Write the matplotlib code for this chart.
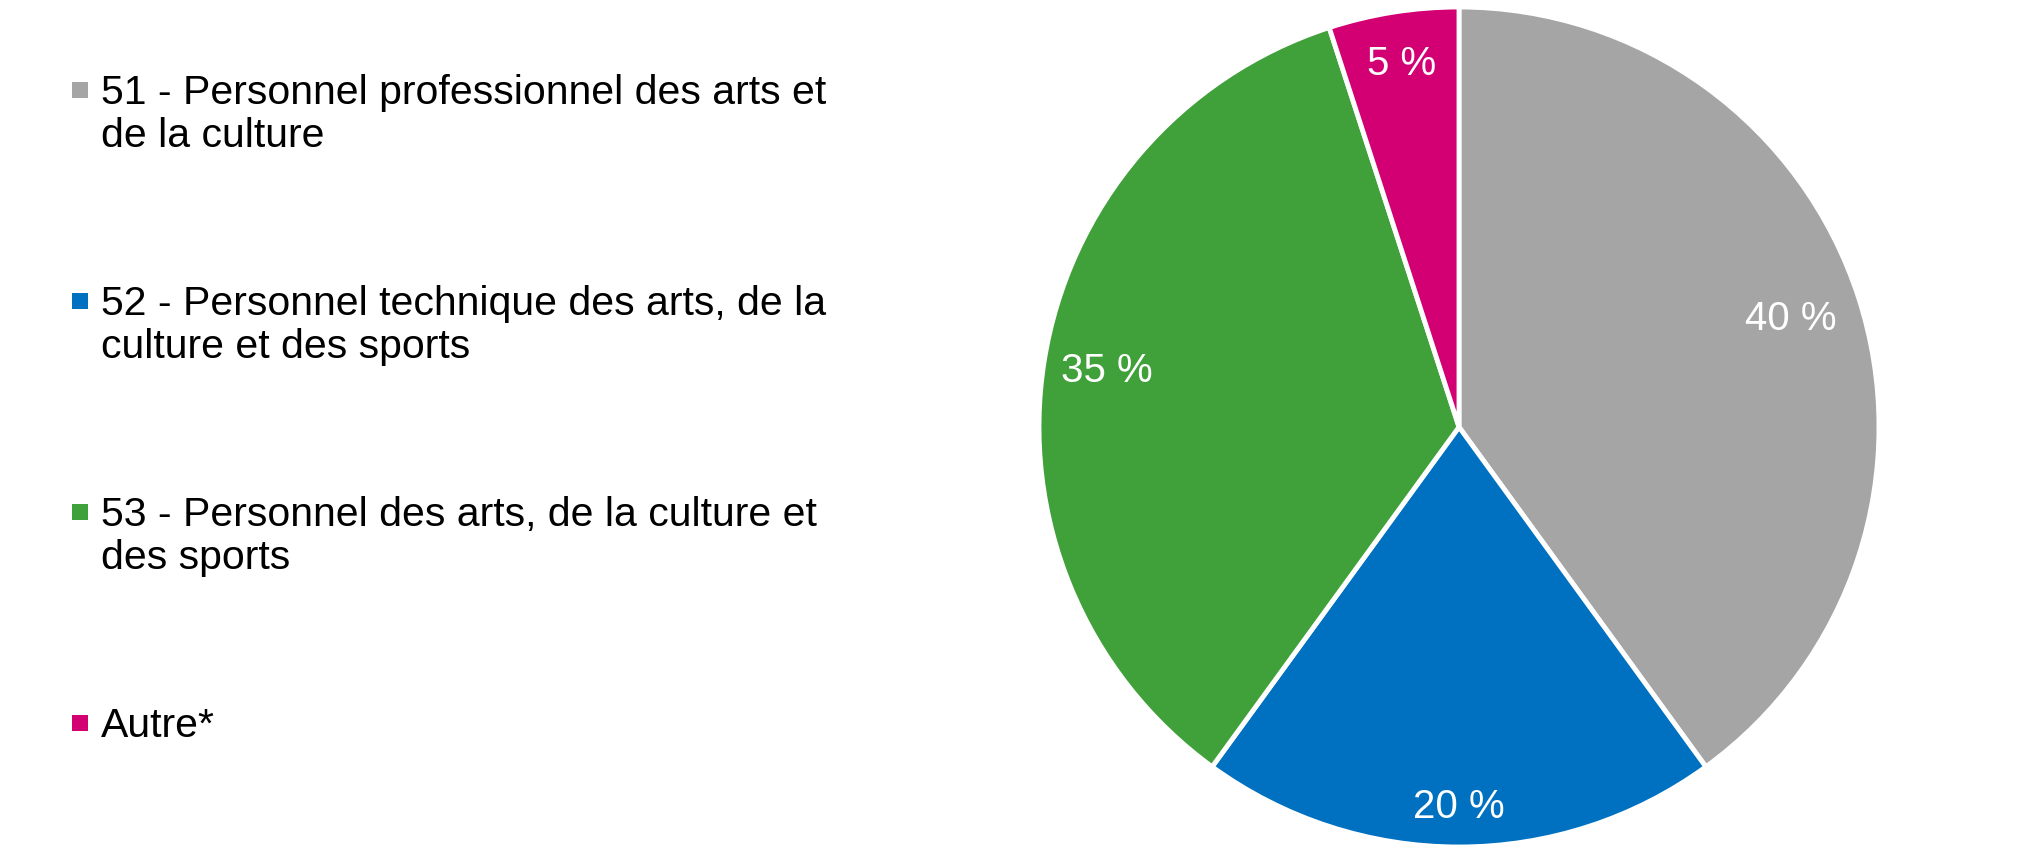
import matplotlib
matplotlib.use('Agg')
import matplotlib.pyplot as plt
import numpy as np

# Répartition par groupe de profession
labels = [
    "51 - Personnel professionnel des arts et\nde la culture",
    "52 - Personnel technique des arts, de la\nculture et des sports",
    "53 - Personnel des arts, de la culture et\ndes sports",
    "Autre*",
]
values = [40, 20, 35, 5]
colors = ["#A5A5A5", "#0070C0", "#40A03A", "#D20073"]

plt.rcParams['font.family'] = ['Liberation Sans', 'DejaVu Sans']

W, H = 2030, 852
fig = plt.figure(figsize=(W / 100, H / 100), dpi=100)

# pie: centre (1459, 427) px, radius 420 px
cx, cy, r = 1459, 427, 420
ax = fig.add_axes([(cx - r) / W, (H - cy - r) / H, 2 * r / W, 2 * r / H])
wedges, texts, autotexts = ax.pie(
    values, colors=colors, startangle=90, counterclock=False,
    autopct=lambda p: f"{p:.0f} %", pctdistance=0.86,
    wedgeprops=dict(edgecolor='white', linewidth=3.5),
    textprops=dict(color='white', fontsize=29),
)
# excel-like "best fit" label radii
for t, d in zip(autotexts, [0.83, 0.905, 0.85, 0.875]):
    x, y = t.get_position()
    n = np.hypot(x, y)
    t.set_position((x / n * d, y / n * d))
ax.set_xlim(-1, 1)
ax.set_ylim(-1, 1)
ax.axis('off')

# legend drawn manually on the left, in pixel coordinates
lax = fig.add_axes([0, 0, 1, 1])
lax.set_xlim(0, W)
lax.set_ylim(H, 0)
lax.axis('off')
for i, (lab, col) in enumerate(zip(labels, colors)):
    base = 104 + i * 211
    lax.scatter([80], [base - 14], marker='s', s=140, color=col, linewidths=0)
    for j, line in enumerate(lab.split('\n')):
        lax.text(101, base + j * 43, line, fontsize=29.5, color='black',
                 va='baseline', ha='left')

fig.savefig('out.png', dpi=100)
